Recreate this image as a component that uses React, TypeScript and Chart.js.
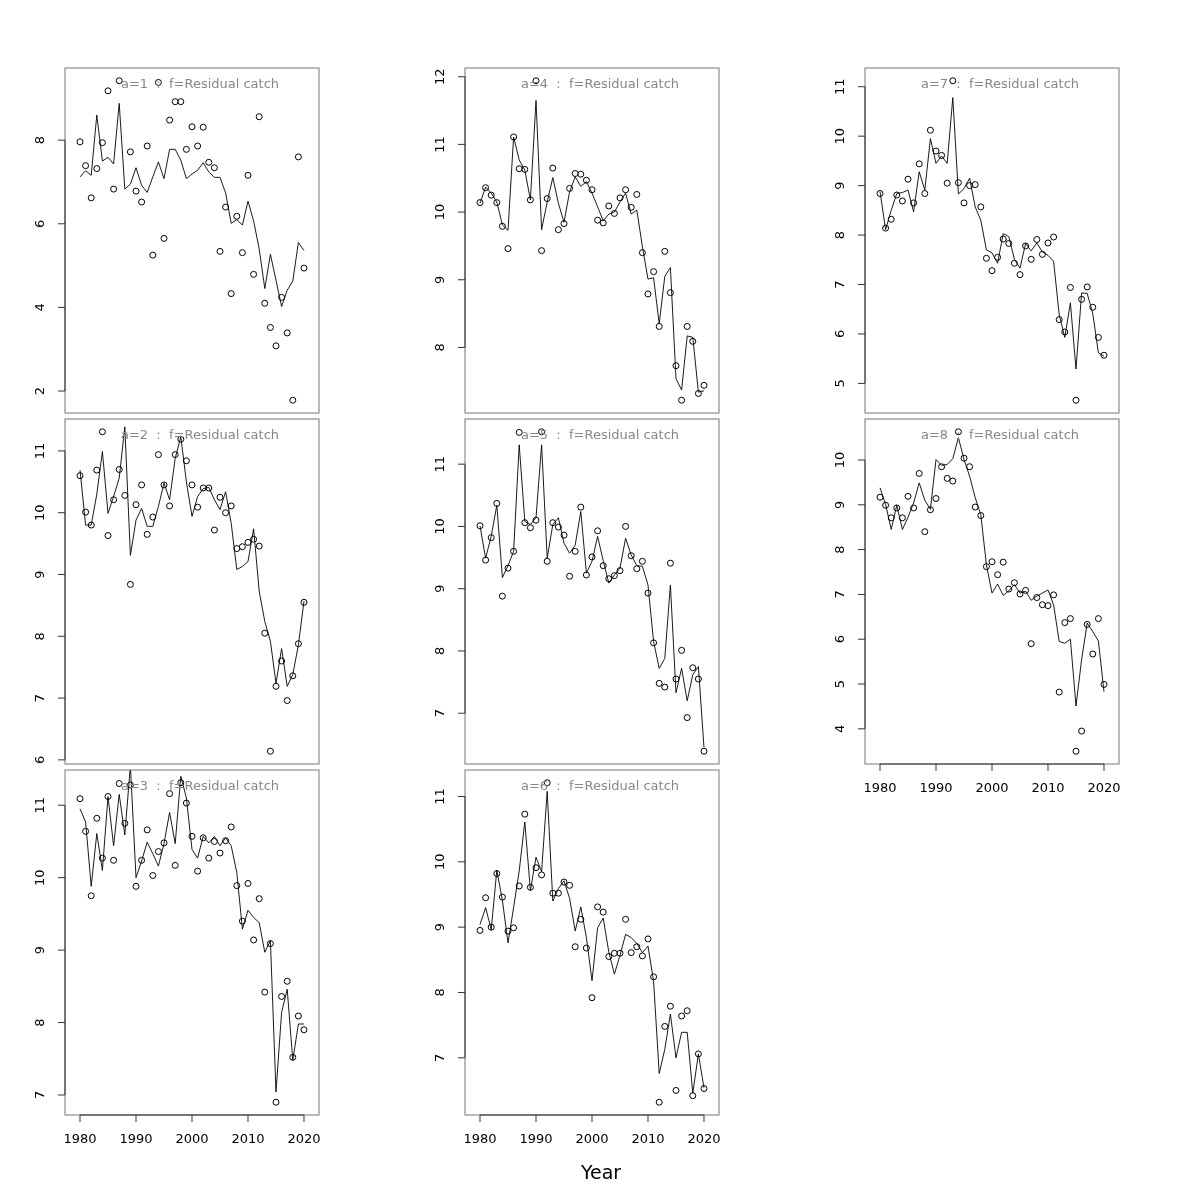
import React, { useEffect, useRef } from "react";
import { Chart, registerables } from "chart.js";
Chart.register(...registerables);

const years = [1980, 1981, 1982, 1983, 1984, 1985, 1986, 1987, 1988, 1989, 1990, 1991, 1992, 1993, 1994, 1995, 1996, 1997, 1998, 1999, 2000, 2001, 2002, 2003, 2004, 2005, 2006, 2007, 2008, 2009, 2010, 2011, 2012, 2013, 2014, 2015, 2016, 2017, 2018, 2019, 2020];
const xTicks = [1980, 1990, 2000, 2010, 2020];

const pts1 = [7.96, 7.39, 6.62, 7.32, 7.94, 9.18, 6.83, 9.42, null, 7.72, 6.78, 6.52, 7.86, 5.25, 9.38, 5.65, 8.48, 8.92, 8.92, 7.78, 8.32, 7.86, 8.31, 7.47, 7.34, 5.34, 6.40, 4.33, 6.18, 5.31, 7.16, 4.79, 8.56, 4.10, 3.52, 3.08, 4.24, 3.39, 1.78, 7.60, 4.94];
const fit1 = [7.12, 7.27, 7.16, 8.60, 7.50, 7.59, 7.43, 8.88, 6.83, 6.95, 7.34, 6.92, 6.75, 7.12, 7.48, 7.08, 7.78, 7.78, 7.52, 7.08, 7.19, 7.28, 7.46, 7.24, 7.11, 7.11, 6.74, 6.01, 6.10, 5.97, 6.54, 6.07, 5.40, 4.45, 5.27, 4.65, 4.02, 4.41, 4.63, 5.55, 5.36];

const pts2 = [10.60, 10.01, 9.80, 10.69, 11.31, 9.63, 10.21, 10.70, 10.28, 8.84, 10.13, 10.45, 9.65, 9.93, 10.94, 10.45, 10.11, 10.94, 11.19, 10.84, 10.45, 10.09, 10.40, 10.40, 9.72, 10.25, 10.00, 10.11, 9.42, 9.45, 9.52, 9.57, 9.46, 8.05, 6.14, 7.19, 7.60, 6.96, 7.36, 7.88, 8.55];
const fit2 = [10.69, 9.80, 9.80, 10.30, 10.99, 9.99, 10.26, 10.56, 11.39, 9.31, 9.88, 10.07, 9.78, 9.78, 10.10, 10.48, 10.21, 10.88, 11.23, 10.50, 9.94, 10.26, 10.39, 10.41, 10.21, 10.05, 10.34, 9.83, 9.08, 9.13, 9.21, 9.74, 8.73, 8.24, 7.92, 7.24, 7.80, 7.19, 7.38, 7.86, 8.57];

const pts3 = [11.09, 10.64, 9.75, 10.82, 10.27, 11.12, 10.24, 11.30, 10.75, 11.28, 9.88, 10.24, 10.66, 10.03, 10.36, 10.48, 11.16, 10.17, 11.31, 11.03, 10.57, 10.09, 10.55, 10.27, 10.50, 10.34, 10.51, 10.70, 9.89, 9.40, 9.92, 9.14, 9.71, 8.42, 9.09, 6.90, 8.36, 8.57, 7.52, 8.09, 7.90];
const fit3 = [10.95, 10.77, 9.88, 10.61, 10.10, 11.12, 10.44, 11.15, 10.59, 11.55, 10.00, 10.23, 10.49, 10.33, 10.16, 10.47, 10.90, 10.47, 11.40, 11.10, 10.39, 10.27, 10.57, 10.48, 10.57, 10.44, 10.55, 10.44, 10.07, 9.29, 9.55, 9.45, 9.38, 8.97, 9.13, 7.04, 8.14, 8.46, 7.48, 7.98, 7.98];

const pts4 = [10.14, 10.36, 10.25, 10.14, 9.79, 9.46, 11.11, 10.64, 10.63, 10.18, 11.94, 9.43, 10.20, 10.65, 9.74, 9.83, 10.35, 10.57, 10.56, 10.47, 10.33, 9.88, 9.84, 10.09, 9.98, 10.21, 10.33, 10.07, 10.26, 9.40, 8.79, 9.12, 8.31, 9.42, 8.81, 7.73, 7.22, 8.31, 8.09, 7.32, 7.44];
const fit4 = [10.13, 10.37, 10.28, 10.15, 9.81, 9.73, 11.11, 10.77, 10.62, 10.18, 11.65, 9.74, 10.15, 10.51, 10.13, 9.85, 10.30, 10.52, 10.38, 10.45, 10.28, 10.08, 9.87, 9.97, 10.00, 10.15, 10.28, 9.97, 10.03, 9.49, 9.01, 9.03, 8.35, 9.05, 9.18, 7.54, 7.37, 8.17, 8.15, 7.34, 7.36];

const pts5 = [10.01, 9.46, 9.82, 10.37, 8.88, 9.33, 9.60, 11.51, 10.06, 9.98, 10.10, 11.52, 9.44, 10.06, 9.99, 9.86, 9.20, 9.60, 10.31, 9.22, 9.51, 9.93, 9.37, 9.16, 9.21, 9.29, 10.00, 9.53, 9.32, 9.44, 8.93, 8.13, 7.48, 7.42, 9.41, 7.55, 8.01, 6.93, 7.73, 7.55, 6.39];
const fit5 = [10.01, 9.49, 9.84, 10.34, 9.18, 9.37, 9.60, 11.31, 10.08, 10.03, 10.14, 11.31, 9.49, 10.03, 10.14, 9.73, 9.57, 9.70, 10.24, 9.25, 9.44, 9.84, 9.45, 9.09, 9.22, 9.33, 9.81, 9.54, 9.37, 9.36, 9.06, 8.15, 7.72, 7.88, 9.06, 7.33, 7.72, 7.20, 7.62, 7.75, 6.45];

const pts6 = [8.95, 9.45, 9.00, 9.82, 9.46, 8.94, 8.99, 9.63, 10.73, 9.61, 9.91, 9.80, 11.21, 9.52, 9.52, 9.69, 9.64, 8.70, 9.12, 8.68, 7.92, 9.31, 9.23, 8.55, 8.60, 8.60, 9.12, 8.61, 8.70, 8.56, 8.82, 8.24, 6.32, 7.48, 7.79, 6.50, 7.64, 7.72, 6.42, 7.06, 6.53];
const fit6 = [9.04, 9.30, 8.96, 9.87, 9.41, 8.76, 9.30, 9.86, 10.61, 9.56, 10.07, 9.85, 11.08, 9.40, 9.59, 9.71, 9.44, 8.94, 9.31, 8.84, 8.18, 8.99, 9.14, 8.62, 8.28, 8.57, 8.89, 8.84, 8.75, 8.61, 8.71, 8.17, 6.76, 7.13, 7.67, 7.00, 7.39, 7.39, 6.46, 7.06, 6.54];

const pts7 = [8.84, 8.14, 8.32, 8.81, 8.69, 9.13, 8.65, 9.44, 8.84, 10.12, 9.70, 9.61, 9.05, 11.12, 9.06, 8.65, 9.00, 9.02, 8.57, 7.53, 7.28, 7.55, 7.92, 7.83, 7.43, 7.20, 7.78, 7.51, 7.91, 7.61, 7.84, 7.96, 6.29, 6.04, 6.94, 4.66, 6.70, 6.95, 6.54, 5.93, 5.57];
const fit7 = [8.88, 8.11, 8.50, 8.84, 8.86, 8.91, 8.47, 9.28, 8.91, 9.95, 9.45, 9.60, 9.45, 10.78, 8.83, 8.94, 9.15, 8.57, 8.30, 7.70, 7.64, 7.43, 8.03, 7.97, 7.51, 7.33, 7.83, 7.68, 7.84, 7.66, 7.59, 7.47, 6.39, 5.93, 6.63, 5.29, 6.83, 6.82, 6.41, 5.62, 5.55];

const pts8 = [9.17, 8.99, 8.71, 8.93, 8.71, 9.19, 8.93, 9.70, 8.40, 8.89, 9.14, 9.85, 9.59, 9.53, 10.63, 10.04, 9.85, 8.95, 8.76, 7.62, 7.73, 7.44, 7.72, 7.12, 7.26, 7.01, 7.09, 5.90, 6.93, 6.77, 6.75, 6.99, 4.82, 6.37, 6.46, 3.50, 3.95, 6.33, 5.67, 6.46, 4.99];
const fit8 = [9.38, 9.01, 8.45, 8.99, 8.45, 8.72, 9.04, 9.49, 9.10, 8.90, 10.01, 9.88, 9.90, 10.03, 10.50, 10.01, 9.64, 9.16, 8.78, 7.66, 7.03, 7.23, 6.98, 7.08, 7.22, 7.03, 7.07, 6.87, 6.96, 7.03, 7.10, 6.77, 5.95, 5.91, 6.00, 4.51, 5.54, 6.36, 6.17, 5.96, 4.83];

const yTicks1 = [2, 4, 6, 8];
const yTicks2 = [6, 7, 8, 9, 10, 11];
const yTicks3 = [7, 8, 9, 10, 11];
const yTicks4 = [8, 9, 10, 11, 12];
const yTicks5 = [7, 8, 9, 10, 11];
const yTicks6 = [7, 8, 9, 10, 11];
const yTicks7 = [5, 6, 7, 8, 9, 10, 11];
const yTicks8 = [4, 5, 6, 7, 8, 9, 10];

const ages = ["1", "2", "3", "4", "5", "6", "7", "8"];
const fleet = "Residual catch";

type P = { label: string; pts: (number | null)[]; fit: number[]; yTicks: number[]; col: number; row: number; showX: boolean };

const panels: P[] = [
  { label: ages[0], pts: pts1, fit: fit1, yTicks: yTicks1, col: 0, row: 0, showX: false },
  { label: ages[1], pts: pts2, fit: fit2, yTicks: yTicks2, col: 0, row: 1, showX: false },
  { label: ages[2], pts: pts3, fit: fit3, yTicks: yTicks3, col: 0, row: 2, showX: true },
  { label: ages[3], pts: pts4, fit: fit4, yTicks: yTicks4, col: 1, row: 0, showX: false },
  { label: ages[4], pts: pts5, fit: fit5, yTicks: yTicks5, col: 1, row: 1, showX: false },
  { label: ages[5], pts: pts6, fit: fit6, yTicks: yTicks6, col: 1, row: 2, showX: true },
  { label: ages[6], pts: pts7, fit: fit7, yTicks: yTicks7, col: 2, row: 0, showX: false },
  { label: ages[7], pts: pts8, fit: fit8, yTicks: yTicks8, col: 2, row: 1, showX: true },
];

const FONT = "'DejaVu Sans', 'Noto Sans', sans-serif";
const COL_LEFT = [65, 465, 865];
const ROW_TOP = [68, 419, 770];
const BOX_W = 254;
const BOX_H = 345;
const PAD = { left: 60, right: 12, top: 8, bottom: 45 };
const X_MIN = 1977.32;
const X_MAX = 2022.68;

function decor(p: P) {
  return {
    id: "decor" + p.label,
    afterDraw(chart: any) {
      const { ctx, chartArea: a, scales } = chart;
      const xs = scales.x;
      const ys = scales.y;
      ctx.save();
      ctx.strokeStyle = "#777";
      ctx.lineWidth = 1;
      ctx.strokeRect(a.left, a.top, a.right - a.left, a.bottom - a.top);
      ctx.strokeStyle = "#333";
      ctx.beginPath();
      const yt = p.yTicks;
      ctx.moveTo(a.left, ys.getPixelForValue(yt[0]));
      ctx.lineTo(a.left, ys.getPixelForValue(yt[yt.length - 1]));
      for (const t of yt) {
        const y = ys.getPixelForValue(t);
        ctx.moveTo(a.left, y);
        ctx.lineTo(a.left - 7, y);
      }
      ctx.stroke();
      ctx.fillStyle = "#000";
      ctx.font = "13px " + FONT;
      ctx.textAlign = "center";
      ctx.textBaseline = "middle";
      for (const t of yt) {
        const y = ys.getPixelForValue(t);
        ctx.save();
        ctx.translate(a.left - 24, y);
        ctx.rotate(-Math.PI / 2);
        ctx.fillText(String(t), 0, 0);
        ctx.restore();
      }
      if (p.showX) {
        ctx.beginPath();
        ctx.moveTo(xs.getPixelForValue(xTicks[0]), a.bottom);
        ctx.lineTo(xs.getPixelForValue(xTicks[xTicks.length - 1]), a.bottom);
        for (const t of xTicks) {
          const x = xs.getPixelForValue(t);
          ctx.moveTo(x, a.bottom);
          ctx.lineTo(x, a.bottom + 7);
        }
        ctx.stroke();
        for (const t of xTicks) {
          const x = xs.getPixelForValue(t);
          ctx.fillText(String(t), x, a.bottom + 25);
        }
      }
      ctx.fillStyle = "#888";
      ctx.font = "13px " + FONT;
      ctx.fillText("a=" + p.label + "  :  f=" + fleet, a.left + 135, a.top + 17);
      ctx.restore();
    },
  };
}

function Panel({ p }: { p: P }) {
  const ref = useRef<HTMLCanvasElement>(null);
  const w = BOX_W + PAD.left + PAD.right;
  const h = BOX_H + PAD.top + PAD.bottom;
  useEffect(() => {
    const vals = p.pts.filter((v) => v !== null) as number[];
    const lo = Math.min(...vals);
    const hi = Math.max(...vals);
    const ext = (hi - lo) * 0.04;
    const chart = new Chart(ref.current as HTMLCanvasElement, {
      type: "line",
      data: {
        datasets: [
          {
            data: years.map((x, i) => ({ x, y: p.pts[i] })) as any,
            showLine: false,
            pointRadius: 3,
            pointBorderWidth: 1,
            pointBorderColor: "#000",
            pointBackgroundColor: "rgba(0,0,0,0)",
            borderColor: "#000",
            pointStyle: "circle",
          },
          {
            data: years.map((x, i) => ({ x, y: p.fit[i] })) as any,
            pointRadius: 0,
            borderColor: "#000",
            borderWidth: 0.9,
            tension: 0,
            fill: false,
          },
        ],
      },
      options: {
        animation: false,
        responsive: false,
        devicePixelRatio: 1,
        events: [],
        layout: { padding: PAD },
        scales: {
          x: { type: "linear", min: X_MIN, max: X_MAX, display: false },
          y: { type: "linear", min: lo - ext, max: hi + ext, display: false },
        },
        plugins: { legend: { display: false }, tooltip: { enabled: false } },
      } as any,
      plugins: [decor(p)],
    });
    return () => chart.destroy();
  }, []);
  return (
    <canvas
      ref={ref}
      width={w}
      height={h}
      style={{ position: "absolute", left: COL_LEFT[p.col] - PAD.left, top: ROW_TOP[p.row] - PAD.top, width: w, height: h }}
    />
  );
}

export default function App() {
  return (
    <div style={{ position: "absolute", left: 0, top: 0, width: 1200, height: 1200, background: "#fff" }}>
      {panels.map((p) => (
        <Panel key={p.label} p={p} />
      ))}
      <div
        style={{
          position: "absolute",
          left: 601,
          top: 1172,
          transform: "translate(-50%, -50%)",
          fontFamily: FONT,
          fontSize: 19,
          color: "#000",
          whiteSpace: "nowrap",
        }}
      >
        Year
      </div>
    </div>
  );
}
